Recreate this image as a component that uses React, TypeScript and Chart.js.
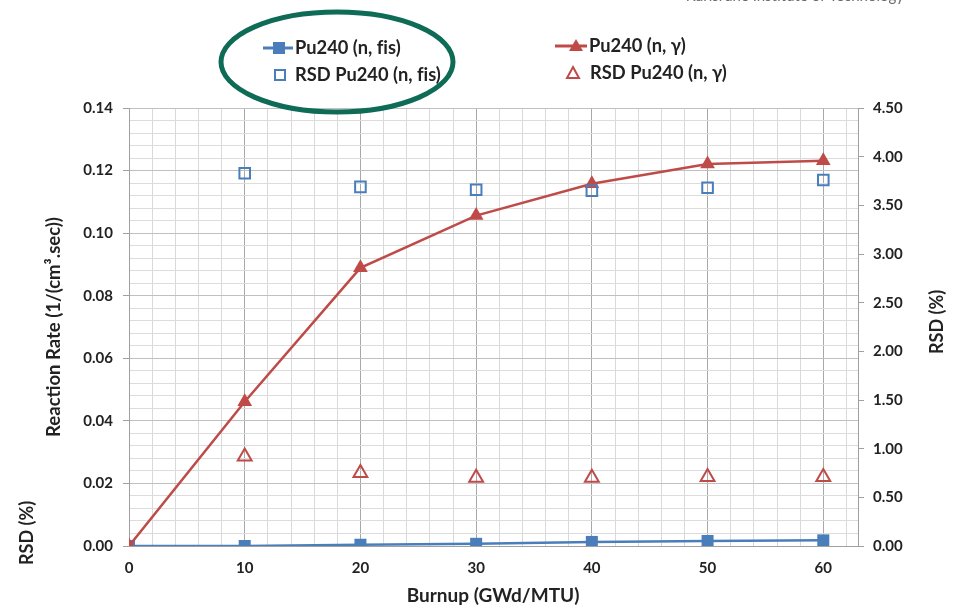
import React, { useEffect, useRef } from "react";
import { Chart, registerables } from "chart.js";

Chart.register(...registerables);

// ---- data ----
const burnup = [0, 10, 20, 30, 40, 50, 60];
const rateFis = [0, 0.0, 0.0004, 0.0007, 0.0013, 0.0016, 0.0018];
const rateGamma = [0, 0.0461, 0.0889, 0.1056, 0.1158, 0.1221, 0.1231];
const rsdBurnup = [10, 20, 30, 40, 50, 60];
const rsdFis = [3.83, 3.69, 3.66, 3.65, 3.68, 3.76];
const rsdGamma = [0.92, 0.75, 0.7, 0.7, 0.71, 0.71];

const seriesNames = ["Pu240 (n, fis)", "Pu240 (n, γ)", "RSD Pu240 (n, fis)", "RSD Pu240 (n, γ)"];
const xTitle = "Burnup (GWd/MTU)";
const yTitle = "Reaction Rate (1/(cm³.sec))";
const y2Title = "RSD (%)";
const headerText = "Karlsruhe Institute of Technology";

const xMin = 0;
const xMax = 63;
const xGridStep = 2;
const xLabelStep = 10;
const yMax = 0.14;
const yGridStep = 0.004;
const yLabelEvery = 5;
const y2Max = 4.5;
const y2Step = 0.5;

const BLUE = "#4a7ebb";
const RED = "#be4b48";
const TEXT = "#222222";
const FONT = "Lato, 'Open Sans', sans-serif";

// avoid the "fi" ligature so the text reads like the original
const noLig = (t: string) => t.replace(/fi/g, "f\u200Ci");

export default function App() {
  const canvasRef = useRef<HTMLCanvasElement | null>(null);

  useEffect(() => {
    document.body.style.margin = "0";
    const canvas = canvasRef.current;
    if (!canvas) return;

    const xTicks: number[] = [];
    for (let v = xMin; v <= xMax; v += xGridStep) xTicks.push(v);
    const yTicks: number[] = [];
    for (let i = 0; i * yGridStep <= yMax + 1e-9; i++) yTicks.push(+(i * yGridStep).toFixed(4));
    const y2Ticks: number[] = [];
    for (let i = 0; i * y2Step <= y2Max + 1e-9; i++) y2Ticks.push(+(i * y2Step).toFixed(2));

    const overlay = {
      id: "overlay",
      afterDraw(chart: any) {
        const ctx = chart.ctx as CanvasRenderingContext2D;
        ctx.save();
        // header (cut off at top)
        ctx.fillStyle = "#6b6b6b";
        ctx.font = `15px ${FONT}`;
        ctx.textAlign = "right";
        ctx.textBaseline = "alphabetic";
        ctx.fillText(headerText, 904, 0.5);

        // axis titles
        ctx.fillStyle = TEXT;
        ctx.font = `bold 19px ${FONT}`;
        ctx.textAlign = "center";
        ctx.textBaseline = "middle";
        ctx.fillText(xTitle, 493, 596);

        const vtext = (t: string, x: number, y: number) => {
          ctx.save();
          ctx.translate(x, y);
          ctx.rotate(-Math.PI / 2);
          ctx.fillText(t, 0, 0);
          ctx.restore();
        };
        ctx.font = `bold 18.5px ${FONT}`;
        vtext(yTitle, 54, 327);
        ctx.font = `bold 18px ${FONT}`;
        vtext(y2Title, 937, 322);
        vtext(y2Title, 27, 533);

        // legend
        ctx.font = `bold 18.3px ${FONT}`;
        ctx.textAlign = "left";
        ctx.textBaseline = "middle";
        // row 1 col 1
        ctx.strokeStyle = BLUE;
        ctx.lineWidth = 3;
        ctx.beginPath();
        ctx.moveTo(263, 48);
        ctx.lineTo(293, 48);
        ctx.stroke();
        ctx.fillStyle = BLUE;
        ctx.fillRect(273, 42, 12, 12);
        ctx.fillStyle = TEXT;
        ctx.fillText(noLig(seriesNames[0]), 295, 48);
        // row 2 col 1
        ctx.strokeStyle = BLUE;
        ctx.lineWidth = 2;
        ctx.strokeRect(275, 70, 10, 10);
        ctx.fillText(noLig(seriesNames[2]), 295, 75);
        // row 1 col 2
        ctx.strokeStyle = RED;
        ctx.lineWidth = 3;
        ctx.beginPath();
        ctx.moveTo(555, 46);
        ctx.lineTo(587, 46);
        ctx.stroke();
        ctx.fillStyle = RED;
        ctx.beginPath();
        ctx.moveTo(576, 39);
        ctx.lineTo(583, 51);
        ctx.lineTo(569, 51);
        ctx.closePath();
        ctx.fill();
        ctx.fillStyle = TEXT;
        ctx.fillText(seriesNames[1], 589, 46);
        // row 2 col 2
        ctx.strokeStyle = RED;
        ctx.lineWidth = 2;
        ctx.beginPath();
        ctx.moveTo(573, 67);
        ctx.lineTo(579, 78);
        ctx.lineTo(567, 78);
        ctx.closePath();
        ctx.stroke();
        ctx.fillText(seriesNames[3], 590, 73);

        // ellipse
        ctx.strokeStyle = "#0e6b56";
        ctx.lineWidth = 5;
        ctx.beginPath();
        ctx.ellipse(337, 62, 116, 50, 0, 0, Math.PI * 2);
        ctx.stroke();
        ctx.restore();
      },
    };

    const tickFont = { family: FONT, size: 15, weight: "bold" as const };

    const chart = new Chart(canvas, {
      type: "line",
      data: {
        datasets: [
          {
            label: seriesNames[2],
            data: rsdBurnup.map((x, i) => ({ x, y: rsdFis[i] })),
            yAxisID: "y2",
            showLine: false,
            pointStyle: "rect",
            pointRadius: 7.5,
            borderColor: BLUE,
            backgroundColor: "rgba(0,0,0,0)",
            pointBorderWidth: 2,
            order: 0,
          },
          {
            label: seriesNames[3],
            data: rsdBurnup.map((x, i) => ({ x, y: rsdGamma[i] })),
            yAxisID: "y2",
            showLine: false,
            pointStyle: "triangle",
            pointRadius: 8,
            borderColor: RED,
            backgroundColor: "rgba(0,0,0,0)",
            pointBorderWidth: 2,
            order: 0,
          },
          {
            label: seriesNames[1],
            data: burnup.map((x, i) => ({ x, y: rateGamma[i] })),
            yAxisID: "y",
            borderColor: RED,
            backgroundColor: RED,
            borderWidth: 2.5,
            pointStyle: "triangle",
            pointRadius: 8.5,
            pointBorderWidth: 0,
            tension: 0,
            order: 1,
          },
          {
            label: seriesNames[0],
            data: burnup.map((x, i) => ({ x, y: rateFis[i] })),
            yAxisID: "y",
            borderColor: BLUE,
            backgroundColor: BLUE,
            borderWidth: 2.5,
            pointStyle: "rect",
            pointRadius: 8.5,
            pointBorderWidth: 0,
            tension: 0,
            order: 2,
          },
        ],
      },
      options: {
        animation: false,
        responsive: false,
        devicePixelRatio: 1,
        layout: { padding: { top: 108, left: 0, right: 0, bottom: 0 } },
        plugins: { legend: { display: false }, tooltip: { enabled: false } },
        scales: {
          x: {
            type: "linear",
            min: xMin,
            max: xMax,
            afterBuildTicks: (s: any) => {
              s.ticks = xTicks.map((v) => ({ value: v }));
            },
            afterFit: (s: any) => {
              s.height = 62;
            },
            ticks: {
              autoSkip: false,
              maxRotation: 0,
              padding: 13,
              color: TEXT,
              font: tickFont,
              callback: (v: any) => (Number(v) % xLabelStep === 0 ? String(v) : ""),
            },
            grid: {
              drawTicks: false,
              color: (c: any) => (c.tick && c.tick.value % xLabelStep === 0 ? "#a8a8a8" : "#d9d9d9"),
              lineWidth: 1,
            },
            border: { color: "#a0a0a0", width: 1 },
          },
          y: {
            type: "linear",
            position: "left",
            min: 0,
            max: yMax,
            afterBuildTicks: (s: any) => {
              s.ticks = yTicks.map((v) => ({ value: v }));
            },
            afterFit: (s: any) => {
              s.width = 129;
            },
            ticks: {
              autoSkip: false,
              padding: 10,
              color: TEXT,
              font: tickFont,
              callback: (v: any, i: number) => (i % yLabelEvery === 0 ? Number(v).toFixed(2) : ""),
            },
            grid: {
              tickLength: 6,
              color: (c: any) => (c.index % yLabelEvery === 0 ? "#c0c0c0" : "#dcdcdc"),
              tickColor: (c: any) => (c.index % yLabelEvery === 0 ? "#a0a0a0" : "rgba(0,0,0,0)"),
            },
            border: { color: "#a0a0a0", width: 1 },
          },
          y2: {
            type: "linear",
            position: "right",
            min: 0,
            max: y2Max,
            afterBuildTicks: (s: any) => {
              s.ticks = y2Ticks.map((v) => ({ value: v }));
            },
            afterFit: (s: any) => {
              s.width = 96;
            },
            ticks: {
              autoSkip: false,
              padding: 9,
              color: TEXT,
              font: tickFont,
              callback: (v: any) => Number(v).toFixed(2),
            },
            grid: {
              drawOnChartArea: false,
              tickLength: 6,
              tickColor: "#a0a0a0",
            },
            border: { color: "#a0a0a0", width: 1 },
          },
        },
      },
      plugins: [overlay],
    });

    return () => chart.destroy();
  }, []);

  return (
    <div style={{ position: "fixed", left: 0, top: 0, width: 954, height: 608, background: "#ffffff" }}>
      <canvas ref={canvasRef} width={954} height={608} style={{ display: "block", width: 954, height: 608 }} />
    </div>
  );
}
